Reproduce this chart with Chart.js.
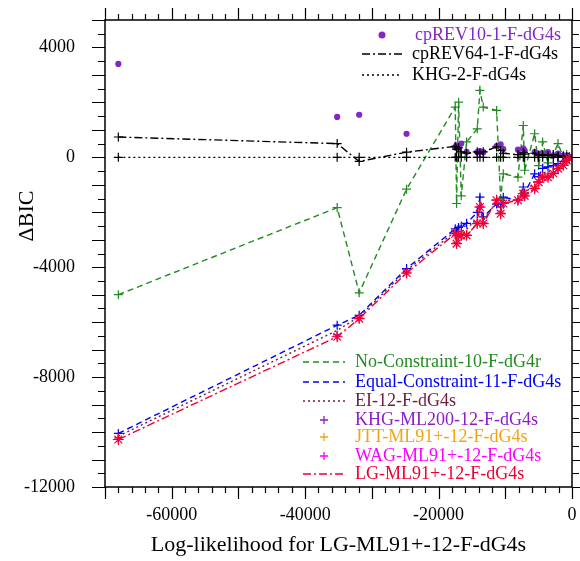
<!DOCTYPE html>
<html>
<head>
<meta charset="utf-8">
<script src="https://cdn.jsdelivr.net/npm/chart.js@4.4.1/dist/chart.umd.min.js"></script>
<style>
html, body { margin: 0; padding: 0; background: #fff; }
</style>
</head>
<body>
<canvas id="grafica" width="580" height="561"></canvas>
<script>
// Log-likelihood of LG-ML91+-12-F-dG4s per alignment (x axis)
var logLik = [-68000, -35200, -31900, -24800, -17500, -17300, -17000, -16600, -15800, -14200,
              -13800, -13300, -11300, -10700, -10300, -8100, -7300, -7100, -5600, -5000,
              -4400, -3600, -2800, -2100, -1300, -800, -400];

// Delta BIC per model (same order as logLik)
var cpREV10 = [3400, 1470, 1550, 860, 370, 440, 400, 500, 200, 190,
               230, 190, 410, 470, 300, 280, 320, 250, 190, 140,
               140, 190, 70, 140, 70, 60, 30];
var cpREV64 = [740, 500, -150, 190, 400, 300, 350, 200, 150, 200,
               150, 200, 380, 250, 150, 100, 180, 120, 150, 80,
               100, 60, 100, 50, 60, 30, 20];
var khg2 = [0, 0, 0, 0, 0, 0, 0, 0, 0, 0,
            0, 0, 0, 0, 0, 0, 0, 0, 0, 0,
            0, 0, 0, 0, 0, 0, 0];
var noConstraint = [-5000, -1830, -4930, -1160, 1830, -1680, 2010, -1400, 560, 1040,
                    2440, 1830, 1710, -1500, -600, -720, 1160, -470, 860, -300,
                    560, -200, 100, 500, 0, 100, 0];
var equalConstraint = [-10050, -6110, -5750, -4050, -2600, -2700, -2550, -2500, -2400, -2000,
                       -1450, -2170, -1700, -1800, -1450, -1560, -1080, -1300, -600, -700,
                       -400, -350, -300, -230, -150, -80, -30];
var ei12 = [-10150, -6300, -5800, -4120, -2700, -2950, -2700, -2680, -2620, -2200,
            -1650, -2300, -1630, -1900, -1560, -1560, -1200, -1350, -870, -800,
            -560, -530, -450, -320, -220, -100, -40];
var khgML200 = [-10200, -6450, -5850, -4180, -2750, -3100, -2800, -2800, -2800, -2380,
                -1780, -2380, -1540, -2020, -1660, -1540, -1300, -1380, -1120, -880,
                -700, -700, -570, -400, -280, -100, -40];
var jttML91 = [-10250, -6500, -5860, -4200, -2770, -3120, -2830, -2830, -2830, -2400,
               -1800, -2400, -1550, -2040, -1670, -1550, -1310, -1390, -1130, -890,
               -710, -710, -580, -405, -285, -105, -45];
var wagML91 = [-10260, -6520, -5865, -4205, -2775, -3130, -2835, -2835, -2835, -2405,
               -1805, -2405, -1555, -2045, -1675, -1555, -1315, -1395, -1135, -895,
               -715, -715, -585, -408, -288, -108, -48];
var lgML91 = [-10270, -6530, -5870, -4210, -2780, -3140, -2840, -2840, -2840, -2410,
              -1810, -2410, -1560, -2050, -1680, -1560, -1320, -1400, -1140, -900,
              -720, -720, -590, -410, -290, -110, -50];

var xTicks = [-60000, -40000, -20000, 0];
var yTicks = [-12000, -8000, -4000, 0, 4000];

var fuente = '"Liberation Serif", "DejaVu Serif", serif';

function puntos(valores) {
    var p = [];
    for (var i = 0; i < logLik.length; i++) {
        p.push({ x: logLik[i], y: valores[i] });
    }
    return p;
}

// Series (index 0 is drawn on top)
var series = [
    { label: 'LG-ML91+-12-F-dG4s', data: puntos(lgML91), color: 'rgb(240,0,50)', dash: [8, 3, 2, 3], line: true, marker: 'star', radius: 5.5 },
    { label: 'WAG-ML91+-12-F-dG4s', data: puntos(wagML91), color: 'rgb(255,0,255)', line: false, marker: 'cross', radius: 4 },
    { label: 'JTT-ML91+-12-F-dG4s', data: puntos(jttML91), color: 'rgb(255,165,0)', line: false, marker: 'cross', radius: 4 },
    { label: 'KHG-ML200-12-F-dG4s', data: puntos(khgML200), color: 'rgb(140,30,200)', line: false, marker: 'cross', radius: 4 },
    { label: 'EI-12-F-dG4s', data: puntos(ei12), color: 'rgb(110,30,60)', dash: [2, 3], line: true, marker: false },
    { label: 'Equal-Constraint-11-F-dG4s', data: puntos(equalConstraint), color: 'rgb(0,0,240)', dash: [6, 4], line: true, marker: 'cross', radius: 4.5 },
    { label: 'KHG-2-F-dG4s', data: puntos(khg2), color: 'rgb(0,0,0)', dash: [2, 3], line: true, marker: 'cross', radius: 4.5 },
    { label: 'cpREV64-1-F-dG4s', data: puntos(cpREV64), color: 'rgb(0,0,0)', dash: [8, 3, 2, 3], line: true, marker: 'cross', radius: 4.5 },
    { label: 'cpREV10-1-F-dG4s', data: puntos(cpREV10), color: 'rgb(130,40,200)', line: false, marker: 'circle', radius: 2.5 },
    { label: 'No-Constraint-10-F-dG4r', data: puntos(noConstraint), color: 'rgb(34,139,34)', dash: [6, 4], line: true, marker: 'cross', radius: 4.5 }
];

var datasets = series.map(function (s) {
    return {
        label: s.label,
        data: s.data,
        showLine: s.line,
        borderColor: s.color,
        backgroundColor: s.color,
        borderWidth: 1.4,
        borderDash: s.dash || [],
        pointStyle: s.marker || 'circle',
        pointRadius: s.marker ? s.radius : 0,
        pointBorderWidth: 1.2,
        pointBorderColor: s.color,
        pointBackgroundColor: s.color,
        tension: 0
    };
});

// Leyendas dibujadas a mano (dos bloques)
var leyendaArriba = [
    { text: 'cpREV10-1-F-dG4s', color: 'rgb(130,40,200)', sample: 'dot', y: 35 },
    { text: 'cpREV64-1-F-dG4s', color: '#000', sample: 'dashdot', y: 54 },
    { text: 'KHG-2-F-dG4s', color: '#000', sample: 'dot-line', y: 75 }
];
var leyendaAbajo = [
    { text: 'No-Constraint-10-F-dG4r', color: 'rgb(34,139,34)', sample: 'dash', y: 362 },
    { text: 'Equal-Constraint-11-F-dG4s', color: 'rgb(0,0,240)', sample: 'dash', y: 382 },
    { text: 'EI-12-F-dG4s', color: 'rgb(110,30,60)', sample: 'dot-line', y: 401 },
    { text: 'KHG-ML200-12-F-dG4s', color: 'rgb(140,30,200)', sample: 'plus', y: 420 },
    { text: 'JTT-ML91+-12-F-dG4s', color: 'rgb(240,165,20)', sample: 'plus', y: 437 },
    { text: 'WAG-ML91+-12-F-dG4s', color: 'rgb(255,0,255)', sample: 'plus', y: 456 },
    { text: 'LG-ML91+-12-F-dG4s', color: 'rgb(240,0,50)', sample: 'dashdot', y: 474 }
];

function muestra(c, tipo, color, x0, x1, y) {
    c.save();
    c.strokeStyle = color;
    c.fillStyle = color;
    c.lineWidth = 1.3;
    if (tipo === 'dot') {
        c.beginPath();
        c.arc((x0 + x1) / 2, y, 3.5, 0, Math.PI * 2);
        c.fill();
    } else if (tipo === 'plus') {
        var m = (x0 + x1) / 2;
        c.beginPath();
        c.moveTo(m - 4, y); c.lineTo(m + 4, y);
        c.moveTo(m, y - 4); c.lineTo(m, y + 4);
        c.stroke();
    } else {
        if (tipo === 'dash') c.setLineDash([6, 4]);
        if (tipo === 'dashdot') c.setLineDash([8, 3, 2, 3]);
        if (tipo === 'dot-line') c.setLineDash([2, 3]);
        c.beginPath();
        c.moveTo(x0, y); c.lineTo(x1, y);
        c.stroke();
    }
    c.restore();
}

var marco = {
    id: 'marco',
    afterDraw: function (chart) {
        var c = chart.ctx, a = chart.chartArea;
        var sx = chart.scales.x, sy = chart.scales.y;
        c.save();
        c.strokeStyle = '#000';
        c.lineWidth = 1.5;
        c.strokeRect(a.left, a.top, a.right - a.left, a.bottom - a.top);
        c.lineWidth = 1.2;
        c.beginPath();
        var v, p, len;
        for (v = -70000; v <= 0; v += 2000) {
            p = Math.round(sx.getPixelForValue(v)) + 0.5;
            len = (v % 10000 === 0) ? 12 : 6;
            c.moveTo(p, a.bottom); c.lineTo(p, a.bottom + len);
            c.moveTo(p, a.top); c.lineTo(p, a.top - len);
        }
        for (v = -12000; v <= 5000; v += 500) {
            p = Math.round(sy.getPixelForValue(v)) + 0.5;
            len = (v % 1000 === 0) ? 13 : 7;
            c.moveTo(a.left, p); c.lineTo(a.left - len, p);
            c.moveTo(a.right, p); c.lineTo(a.right + len, p);
        }
        c.stroke();

        // titulo del eje y
        c.fillStyle = '#000';
        c.font = '22px ' + fuente;
        c.translate(27, 216);
        c.rotate(-Math.PI / 2);
        c.textAlign = 'center';
        c.textBaseline = 'middle';
        c.fillText('\u0394BIC', 0, 0);
        c.restore();

        // leyendas
        c.save();
        c.font = '18px ' + fuente;
        c.textBaseline = 'middle';
        c.textAlign = 'left';
        leyendaArriba.forEach(function (it) {
            muestra(c, it.sample, it.color, 362, 402, it.y);
            c.fillStyle = it.color;
            c.fillText(it.text, it.sample === 'dot' ? 415 : 412, it.y);
        });
        leyendaAbajo.forEach(function (it) {
            muestra(c, it.sample, it.color, 303, 345, it.y);
            c.fillStyle = it.color;
            c.fillText(it.text, 355, it.y);
        });
        c.restore();
    }
};

var ctx = document.getElementById('grafica');
window.grafica = new Chart(ctx, {
    type: 'scatter',
    data: { datasets: datasets },
    options: {
        responsive: false,
        animation: false,
        layout: { padding: { top: 20, right: 8, left: 0, bottom: 0 } },
        plugins: {
            legend: { display: false },
            tooltip: { enabled: false }
        },
        scales: {
            x: {
                type: 'linear',
                min: -70000,
                max: 0,
                border: { display: false },
                grid: { display: false },
                afterBuildTicks: function (scale) {
                    scale.ticks = xTicks.map(function (v) { return { value: v }; });
                },
                afterFit: function (scale) {
                    scale.height = 74;
                    scale.paddingLeft = 0;
                    scale.paddingRight = 0;
                },
                ticks: {
                    padding: 9,
                    color: '#000',
                    maxRotation: 0,
                    font: { family: fuente, size: 18 },
                    callback: function (v) { return String(v); }
                },
                title: {
                    display: true,
                    text: 'Log-likelihood for LG-ML91+-12-F-dG4s',
                    color: '#000',
                    font: { family: fuente, size: 22 },
                    padding: { top: 0, bottom: 3 }
                }
            },
            y: {
                type: 'linear',
                min: -12000,
                max: 5000,
                border: { display: false },
                grid: { display: false },
                afterBuildTicks: function (scale) {
                    scale.ticks = yTicks.map(function (v) { return { value: v }; });
                },
                afterFit: function (scale) {
                    scale.width = 105;
                    scale.paddingTop = 0;
                    scale.paddingBottom = 0;
                },
                ticks: {
                    padding: 22,
                    color: '#000',
                    font: { family: fuente, size: 18 },
                    callback: function (v) { return String(v); }
                }
            }
        }
    },
    plugins: [marco]
});
</script>
</body>
</html>
